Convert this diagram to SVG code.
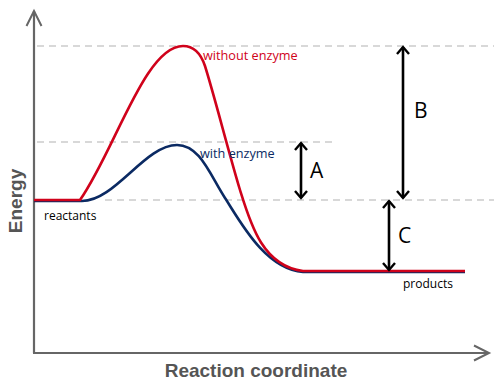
<svg xmlns="http://www.w3.org/2000/svg" width="494" height="386" viewBox="0 0 494 386">
<style>
.dash{stroke:#cccccc;stroke-width:1.5;stroke-dasharray:7,5;fill:none}
.axis{stroke:#666666;stroke-width:2.2;fill:none}
.red{stroke:#d0021b;stroke-width:2.6;fill:none;stroke-linejoin:round}
.blue{stroke:#0b2a63;stroke-width:2.6;fill:none;stroke-linejoin:round}
.dbl{stroke:#000;stroke-width:2.6;fill:none;marker-start:url(#ch);marker-end:url(#ch)}
.lab{font-family:"Open Sans","Liberation Sans",sans-serif;font-size:12px}
.curl{font-family:"Open Sans","Liberation Sans",sans-serif;font-size:12.7px}
.big{font-family:"Open Sans","Liberation Sans",sans-serif;font-size:21px;fill:#000}
.ax{font-family:"Liberation Sans",Arial,sans-serif;font-size:19px;font-weight:bold;fill:#555555}
</style>
<defs>
<marker id="ch" markerUnits="userSpaceOnUse" markerWidth="16" markerHeight="16" refX="12" refY="8" orient="auto-start-reverse">
<path d="M5,2 L12,8 L5,14" stroke="#000" stroke-width="2.4" fill="none"/>
</marker>
<marker id="ax" markerUnits="userSpaceOnUse" markerWidth="20" markerHeight="20" refX="17" refY="10" orient="auto">
<path d="M2,2.5 L17,10 L2,17.5" stroke="#666666" stroke-width="2" fill="none"/>
</marker>
</defs>
<g id="gridlines">
<line class="dash" x1="37" y1="46" x2="494" y2="46"/>
<line class="dash" x1="37" y1="142" x2="334" y2="142"/>
<line class="dash" x1="105" y1="200" x2="494" y2="200"/>
</g>
<g id="axes">
<path class="axis" d="M34,353 V11" marker-end="url(#ax)"/>
<path class="axis" d="M33,353 H489" marker-end="url(#ax)"/>
<text class="ax" transform="translate(22,201) rotate(-90)" text-anchor="middle">Energy</text>
<text class="ax" x="256" y="377" text-anchor="middle">Reaction coordinate</text>
</g>
<g id="curves">
<path id="with-enzyme-curve" class="blue" d="M34,201 H82 C115,201 145,145 177,145 C200,145 210,175 225,198 C240,221 265,269 303,272 H465"/>
<path id="without-enzyme-curve" class="red" d="M34,200 H80 C115,150 145,46 183,46 C195,46 201,54 205,66 C215,98 228,150 240,190 C250,222 262,266 303,271 H465"/>
</g>
<g id="connectors">
<line id="arrow-A" class="dbl" x1="301" y1="143" x2="301" y2="198"/>
<line id="arrow-B" class="dbl" x1="403" y1="47" x2="403" y2="198"/>
<line id="arrow-C" class="dbl" x1="389" y1="201" x2="389" y2="270"/>
</g>
<g id="labels">
<text class="curl" x="203" y="60" fill="#d0021b">without enzyme</text>
<text class="curl" x="200" y="158" fill="#0b2a63">with enzyme</text>
<text class="lab" x="44" y="220" fill="#000">reactants</text>
<text class="lab" x="403" y="288" fill="#000">products</text>
<text class="big" x="310" y="178">A</text>
<text class="big" x="414" y="118">B</text>
<text class="big" x="398" y="243">C</text>
</g>
</svg>
